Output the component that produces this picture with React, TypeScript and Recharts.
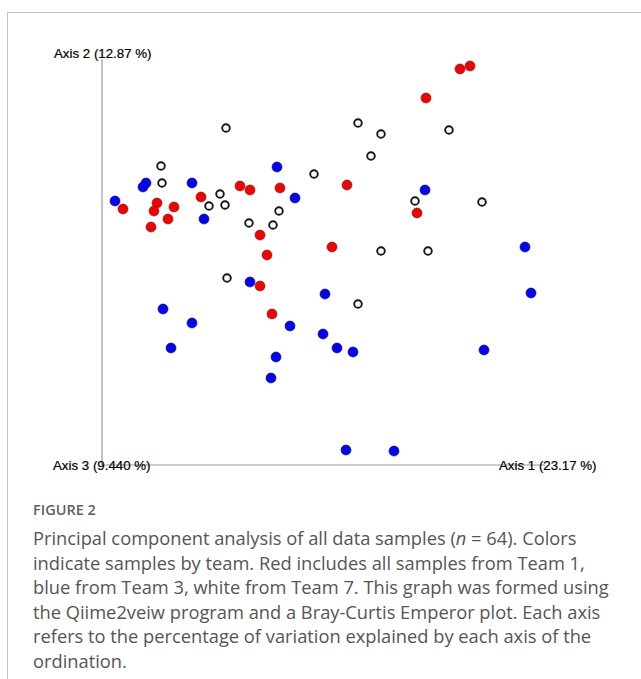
import React from 'react';
import { ScatterChart, Scatter, XAxis, YAxis, ReferenceLine } from 'recharts';

// PCoA scores (Axis 1, Axis 2), one list per team
const team1Red = [
  { x: 4.2, y: 64 },
  { x: 11, y: 65.5 },
  { x: 10.4, y: 63.5 },
  { x: 14.4, y: 64.5 },
  { x: 13.2, y: 61.5 },
  { x: 9.8, y: 59.5 },
  { x: 19.8, y: 67 },
  { x: 27.6, y: 69.75 },
  { x: 29.6, y: 68.75 },
  { x: 35.6, y: 69.25 },
  { x: 31.6, y: 57.5 },
  { x: 33, y: 52.5 },
  { x: 31.6, y: 44.75 },
  { x: 34, y: 37.75 },
  { x: 71.6, y: 99 },
  { x: 73.6, y: 99.75 },
  { x: 64.8, y: 91.75 },
  { x: 49, y: 70 },
  { x: 63, y: 63 },
  { x: 46, y: 54.5 },
];

const team3Blue = [
  { x: 8.8, y: 70.5 },
  { x: 8.2, y: 69.5 },
  { x: 18, y: 70.5 },
  { x: 2.6, y: 66 },
  { x: 20.4, y: 61.5 },
  { x: 35, y: 74.5 },
  { x: 38.6, y: 66.75 },
  { x: 29.6, y: 45.75 },
  { x: 64.6, y: 68.75 },
  { x: 44.6, y: 42.75 },
  { x: 85.8, y: 43 },
  { x: 12.2, y: 39 },
  { x: 18, y: 35.5 },
  { x: 37.6, y: 34.75 },
  { x: 44.2, y: 32.75 },
  { x: 13.8, y: 29.25 },
  { x: 34.8, y: 27 },
  { x: 47, y: 29.25 },
  { x: 50.2, y: 28.25 },
  { x: 76.4, y: 28.75 },
  { x: 33.8, y: 21.75 },
  { x: 48.8, y: 3.75 },
  { x: 58.4, y: 3.5 },
  { x: 84.6, y: 54.5 },
];

const team7White = [
  { x: 24.8, y: 84.25 },
  { x: 11.8, y: 74.75 },
  { x: 12, y: 70.5 },
  { x: 23.6, y: 67.75 },
  { x: 21.4, y: 64.75 },
  { x: 24.6, y: 65 },
  { x: 42.4, y: 72.75 },
  { x: 35.4, y: 63.5 },
  { x: 29.4, y: 60.5 },
  { x: 34.2, y: 60 },
  { x: 25, y: 46.75 },
  { x: 51.2, y: 85.5 },
  { x: 55.8, y: 82.75 },
  { x: 69.4, y: 83.75 },
  { x: 53.8, y: 77.25 },
  { x: 62.6, y: 66 },
  { x: 76, y: 65.75 },
  { x: 55.8, y: 53.5 },
  { x: 65.2, y: 53.5 },
  { x: 51.2, y: 40.25 },
];

const axisLabels = ['Axis 2 (12.87 %)', 'Axis 3 (9.440 %)', 'Axis 1 (23.17 %)'];

const captionTitle = 'FIGURE 2';
const captionLines = [
  ['Principal component analysis of all data samples (', 'n', ' = 64). Colors'],
  ['indicate samples by team. Red includes all samples from Team 1,'],
  ['blue from Team 3, white from Team 7. This graph was formed using'],
  ['the Qiime2veiw program and a Bray-Curtis Emperor plot. Each axis'],
  ['refers to the percentage of variation explained by each axis of the'],
  ['ordination.'],
];

const dot = (fill: string, stroke: string, r: number, sw: number) => (props: any) => (
  <circle cx={props.cx} cy={props.cy} r={r} fill={fill} stroke={stroke} strokeWidth={sw} />
);

const labelStyle: React.CSSProperties = {
  position: 'absolute',
  fontFamily: '"Liberation Sans", Arial, sans-serif',
  fontSize: 13.3,
  lineHeight: '14px',
  color: '#000',
  whiteSpace: 'nowrap',
  WebkitTextStroke: '0.2px #000',
};

export default function App() {
  return (
    <div style={{ position: 'absolute', left: 0, top: 0, width: 641, height: 679, background: '#fff', overflow: 'hidden' }}>
      {/* panel frame */}
      <div
        style={{
          position: 'absolute',
          left: 7,
          top: 12,
          width: 640,
          height: 680,
          borderTop: '1px solid #c4c4c4',
          borderLeft: '1px solid #c4c4c4',
        }}
      />

      <div style={{ position: 'absolute', left: 0, top: 0 }}>
        <ScatterChart width={641} height={679} margin={{ top: 65, left: 102, right: 39, bottom: 214 }}>
          <XAxis type="number" dataKey="x" domain={[0, 100]} hide />
          <YAxis type="number" dataKey="y" domain={[0, 100]} hide />
          <ReferenceLine
            segment={[{ x: 0, y: 0 }, { x: 0, y: 101.5 }]}
            stroke="#9a9a9a"
            strokeWidth={1.2}
            ifOverflow="visible"
          />
          <ReferenceLine
            segment={[{ x: 0, y: 0 }, { x: 88.6, y: 0 }]}
            stroke="#9a9a9a"
            strokeWidth={1.2}
            ifOverflow="visible"
          />
          <Scatter data={team3Blue} isAnimationActive={false} shape={dot('#0505e8', '#00009a', 5, 0.6)} />
          <Scatter data={team7White} isAnimationActive={false} shape={dot('#ffffff', '#151515', 3.8, 1.9)} />
          <Scatter data={team1Red} isAnimationActive={false} shape={dot('#ea0606', '#9a0000', 5, 0.6)} />
        </ScatterChart>
      </div>

      <div style={{ ...labelStyle, left: 54, top: 47 }}>{axisLabels[0]}</div>
      <div style={{ ...labelStyle, left: 53, top: 459 }}>{axisLabels[1]}</div>
      <div style={{ ...labelStyle, left: 499, top: 459 }}>{axisLabels[2]}</div>

      <div
        style={{
          position: 'absolute',
          left: 33,
          top: 502,
          fontFamily: '"Open Sans", sans-serif',
          fontSize: 14.5,
          fontWeight: 600,
          color: '#5f5f5f',
          lineHeight: '16px',
        }}
      >
        {captionTitle}
      </div>
      <div
        style={{
          position: 'absolute',
          left: 33,
          top: 526,
          fontFamily: '"Open Sans", sans-serif',
          fontSize: 18.3,
          color: '#555',
          lineHeight: '24.6px',
          whiteSpace: 'nowrap',
        }}
      >
        {captionLines.map((parts, i) => (
          <div key={i}>
            {parts.map((p, j) => (p === 'n' ? <i key={j}>n</i> : <span key={j}>{p}</span>))}
          </div>
        ))}
      </div>
    </div>
  );
}
